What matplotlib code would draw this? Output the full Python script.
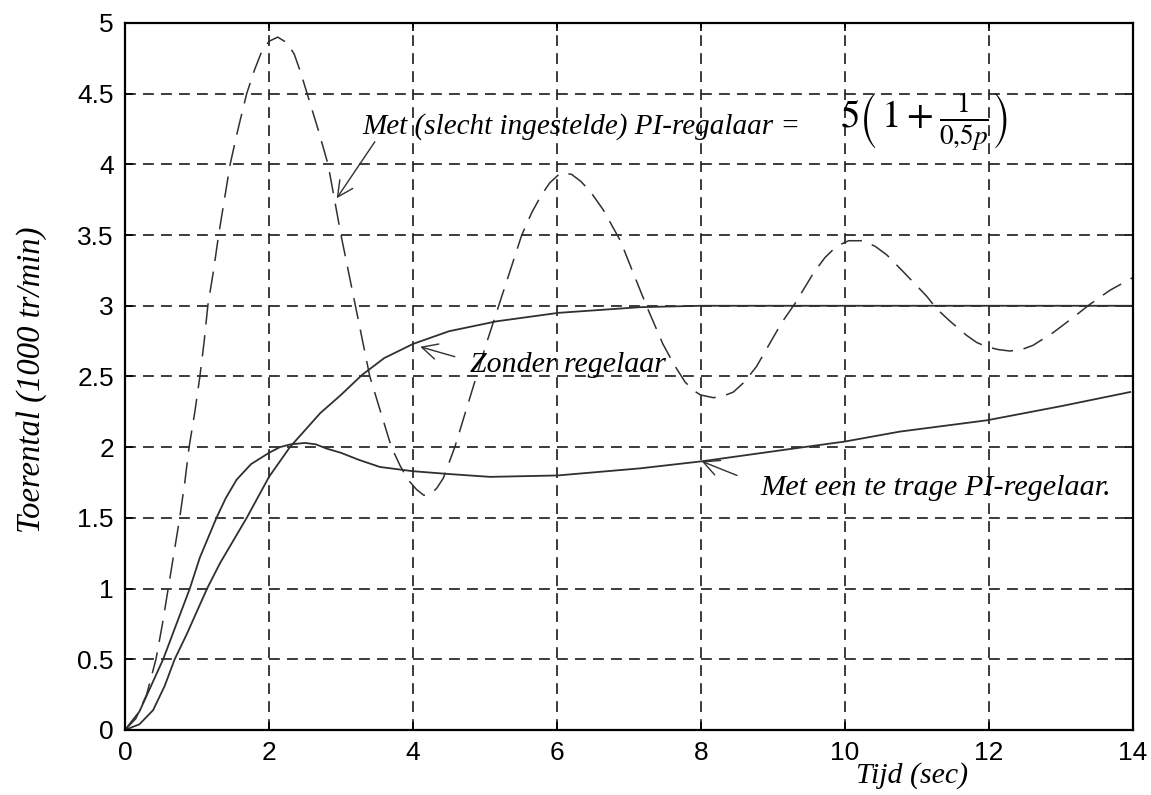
import matplotlib
matplotlib.use("Agg")
import matplotlib.pyplot as plt

plt.rcParams['mathtext.fontset'] = 'stix'

# PI-regelaar slecht ingesteld (gestreept)
t_pi = [0, 0.15, 0.3, 0.43, 0.52, 0.60, 0.68, 0.76, 0.83, 0.89, 0.97, 1.04, 1.10, 1.15,
        1.23, 1.30, 1.38, 1.46, 1.57, 1.69, 1.80, 1.90, 2.0, 2.12, 2.25, 2.35, 2.44, 2.53,
        2.68, 2.82, 2.91, 3.0, 3.1, 3.2, 3.3, 3.4, 3.55, 3.70, 3.82, 3.93, 4.05, 4.15, 4.25,
        4.33, 4.42, 4.58, 4.73, 4.88, 5.03, 5.19, 5.35, 5.51, 5.65, 5.78, 5.9, 6.05, 6.2,
        6.33, 6.46, 6.64, 6.88, 7.06, 7.25, 7.47, 7.63, 7.78, 7.9, 7.99, 8.17, 8.3, 8.45,
        8.6, 8.77, 9.12, 9.31, 9.56, 9.72, 9.88, 10.05, 10.25, 10.42, 10.58, 10.81, 11.13,
        11.27, 11.46, 11.69, 11.83, 11.97, 12.13, 12.29, 12.45, 12.61, 12.89, 13.15, 13.40,
        13.68, 14.0]
y_pi = [0, 0.08, 0.25, 0.5, 0.75, 1.0, 1.25, 1.5, 1.75, 2.0, 2.25, 2.5, 2.75, 3.0,
        3.25, 3.5, 3.75, 4.0, 4.25, 4.5, 4.67, 4.80, 4.87, 4.90, 4.86, 4.78, 4.65, 4.5,
        4.25, 4.0, 3.75, 3.5, 3.25, 3.0, 2.75, 2.5, 2.25, 2.0, 1.87, 1.77, 1.70, 1.66, 1.67,
        1.71, 1.78, 2.0, 2.25, 2.5, 2.75, 3.0, 3.25, 3.5, 3.66, 3.78, 3.87, 3.94, 3.93,
        3.88, 3.81, 3.68, 3.46, 3.23, 2.99, 2.73, 2.58, 2.46, 2.40, 2.37, 2.35, 2.36, 2.39,
        2.46, 2.57, 2.88, 3.02, 3.23, 3.34, 3.42, 3.46, 3.46, 3.42, 3.36, 3.24, 3.07,
        2.98, 2.89, 2.79, 2.74, 2.71, 2.69, 2.68, 2.69, 2.72, 2.81, 2.91, 3.01,
        3.11, 3.2]

# zonder regelaar
t_zonder = [0, 0.2, 0.39, 0.55, 0.69, 0.86, 1.14, 1.32, 1.69, 2.0, 2.29, 2.71, 3.0, 3.29,
            3.6, 4.0, 4.5, 5.16, 6.02, 7.15, 8.0, 10.0, 14.0]
y_zonder = [0, 0.04, 0.14, 0.31, 0.5, 0.68, 1.0, 1.18, 1.5, 1.79, 2.0, 2.24, 2.37, 2.51,
            2.63, 2.73, 2.82, 2.89, 2.95, 2.99, 3.0, 3.0, 3.0]

# te trage PI-regelaar
t_traag = [0, 0.2, 0.53, 0.90, 1.04, 1.27, 1.4, 1.55, 1.75, 2.0, 2.15, 2.3, 2.5, 2.65,
           2.8, 3.0, 3.25, 3.54, 4.0, 4.5, 5.07, 6.01, 7.15, 8.01, 9.28, 10.0, 10.76,
           11.97, 13.0, 13.96]
y_traag = [0, 0.13, 0.5, 1.0, 1.22, 1.5, 1.64, 1.77, 1.88, 1.96, 2.0, 2.02, 2.03, 2.02,
           1.99, 1.96, 1.91, 1.86, 1.83, 1.81, 1.79, 1.80, 1.85, 1.90, 1.99, 2.04, 2.11,
           2.19, 2.29, 2.39]

xticks = [0, 2, 4, 6, 8, 10, 12, 14]
yticks = [0, 0.5, 1, 1.5, 2, 2.5, 3, 3.5, 4, 4.5, 5]
ylabels = ['0', '0.5', '1', '1.5', '2', '2.5', '3', '3.5', '4', '4.5', '5']

serif = dict(family='Liberation Serif', style='italic')

fig = plt.figure(figsize=(11.51, 7.95), dpi=100)
ax = fig.add_axes([0.1086, 0.0818, 0.8758, 0.8893])

ax.plot(t_pi, y_pi, color='#303030', lw=1.1, linestyle=(0, (14, 7)))
ax.plot(t_zonder, y_zonder, color='#303030', lw=1.3)
ax.plot(t_traag, y_traag, color='#303030', lw=1.3)

ax.set_xlim(0, 14)
ax.set_ylim(0, 5)
ax.set_xticks(xticks)
ax.set_xticklabels([str(v) for v in xticks])
ax.set_yticks(yticks)
ax.set_yticklabels(ylabels)
ax.tick_params(direction='in', top=True, right=True, length=6, width=1.2,
               labelsize=19, pad=8)
for lab in ax.get_xticklabels() + ax.get_yticklabels():
    lab.set_family('Liberation Sans')
ax.grid(True, color='#1a1a1a', lw=1.2, linestyle=(0, (6.5, 4.3)))
for s in ax.spines.values():
    s.set_linewidth(1.6)

ax.set_xlabel('Tijd (sec)', fontsize=21.5, **serif)
ax.xaxis.set_label_coords(0.781, -0.045)
ax.set_ylabel('Toerental (1000 tr/min)', fontsize=23.5, va='center', **serif)
ax.yaxis.set_label_coords(-0.093, 0.495)

arrow = dict(arrowstyle='->', color='#303030', lw=1.0, mutation_scale=28, shrinkA=0, shrinkB=0)
ax.annotate('', xy=(2.94, 3.76), xytext=(3.47, 4.16), arrowprops=arrow)
ax.annotate('', xy=(4.10, 2.71), xytext=(4.58, 2.64), arrowprops=arrow)
ax.annotate('', xy=(8.01, 1.90), xytext=(8.50, 1.80), arrowprops=arrow)

ax.text(3.29, 4.22, 'Met (slecht ingestelde) PI-regalaar =', fontsize=21,
        va='baseline', **serif)
ax.text(9.93, 4.30, r'$5\left(\,1+\frac{1}{0{,}5p}\right)$', fontsize=28, va='center')
ax.text(4.79, 2.53, 'Zonder regelaar', fontsize=21.5, va='baseline', **serif)
ax.text(8.82, 1.66, 'Met een te trage PI-regelaar.', fontsize=21.8, va='baseline', **serif)

fig.savefig('out.png', dpi=100)
